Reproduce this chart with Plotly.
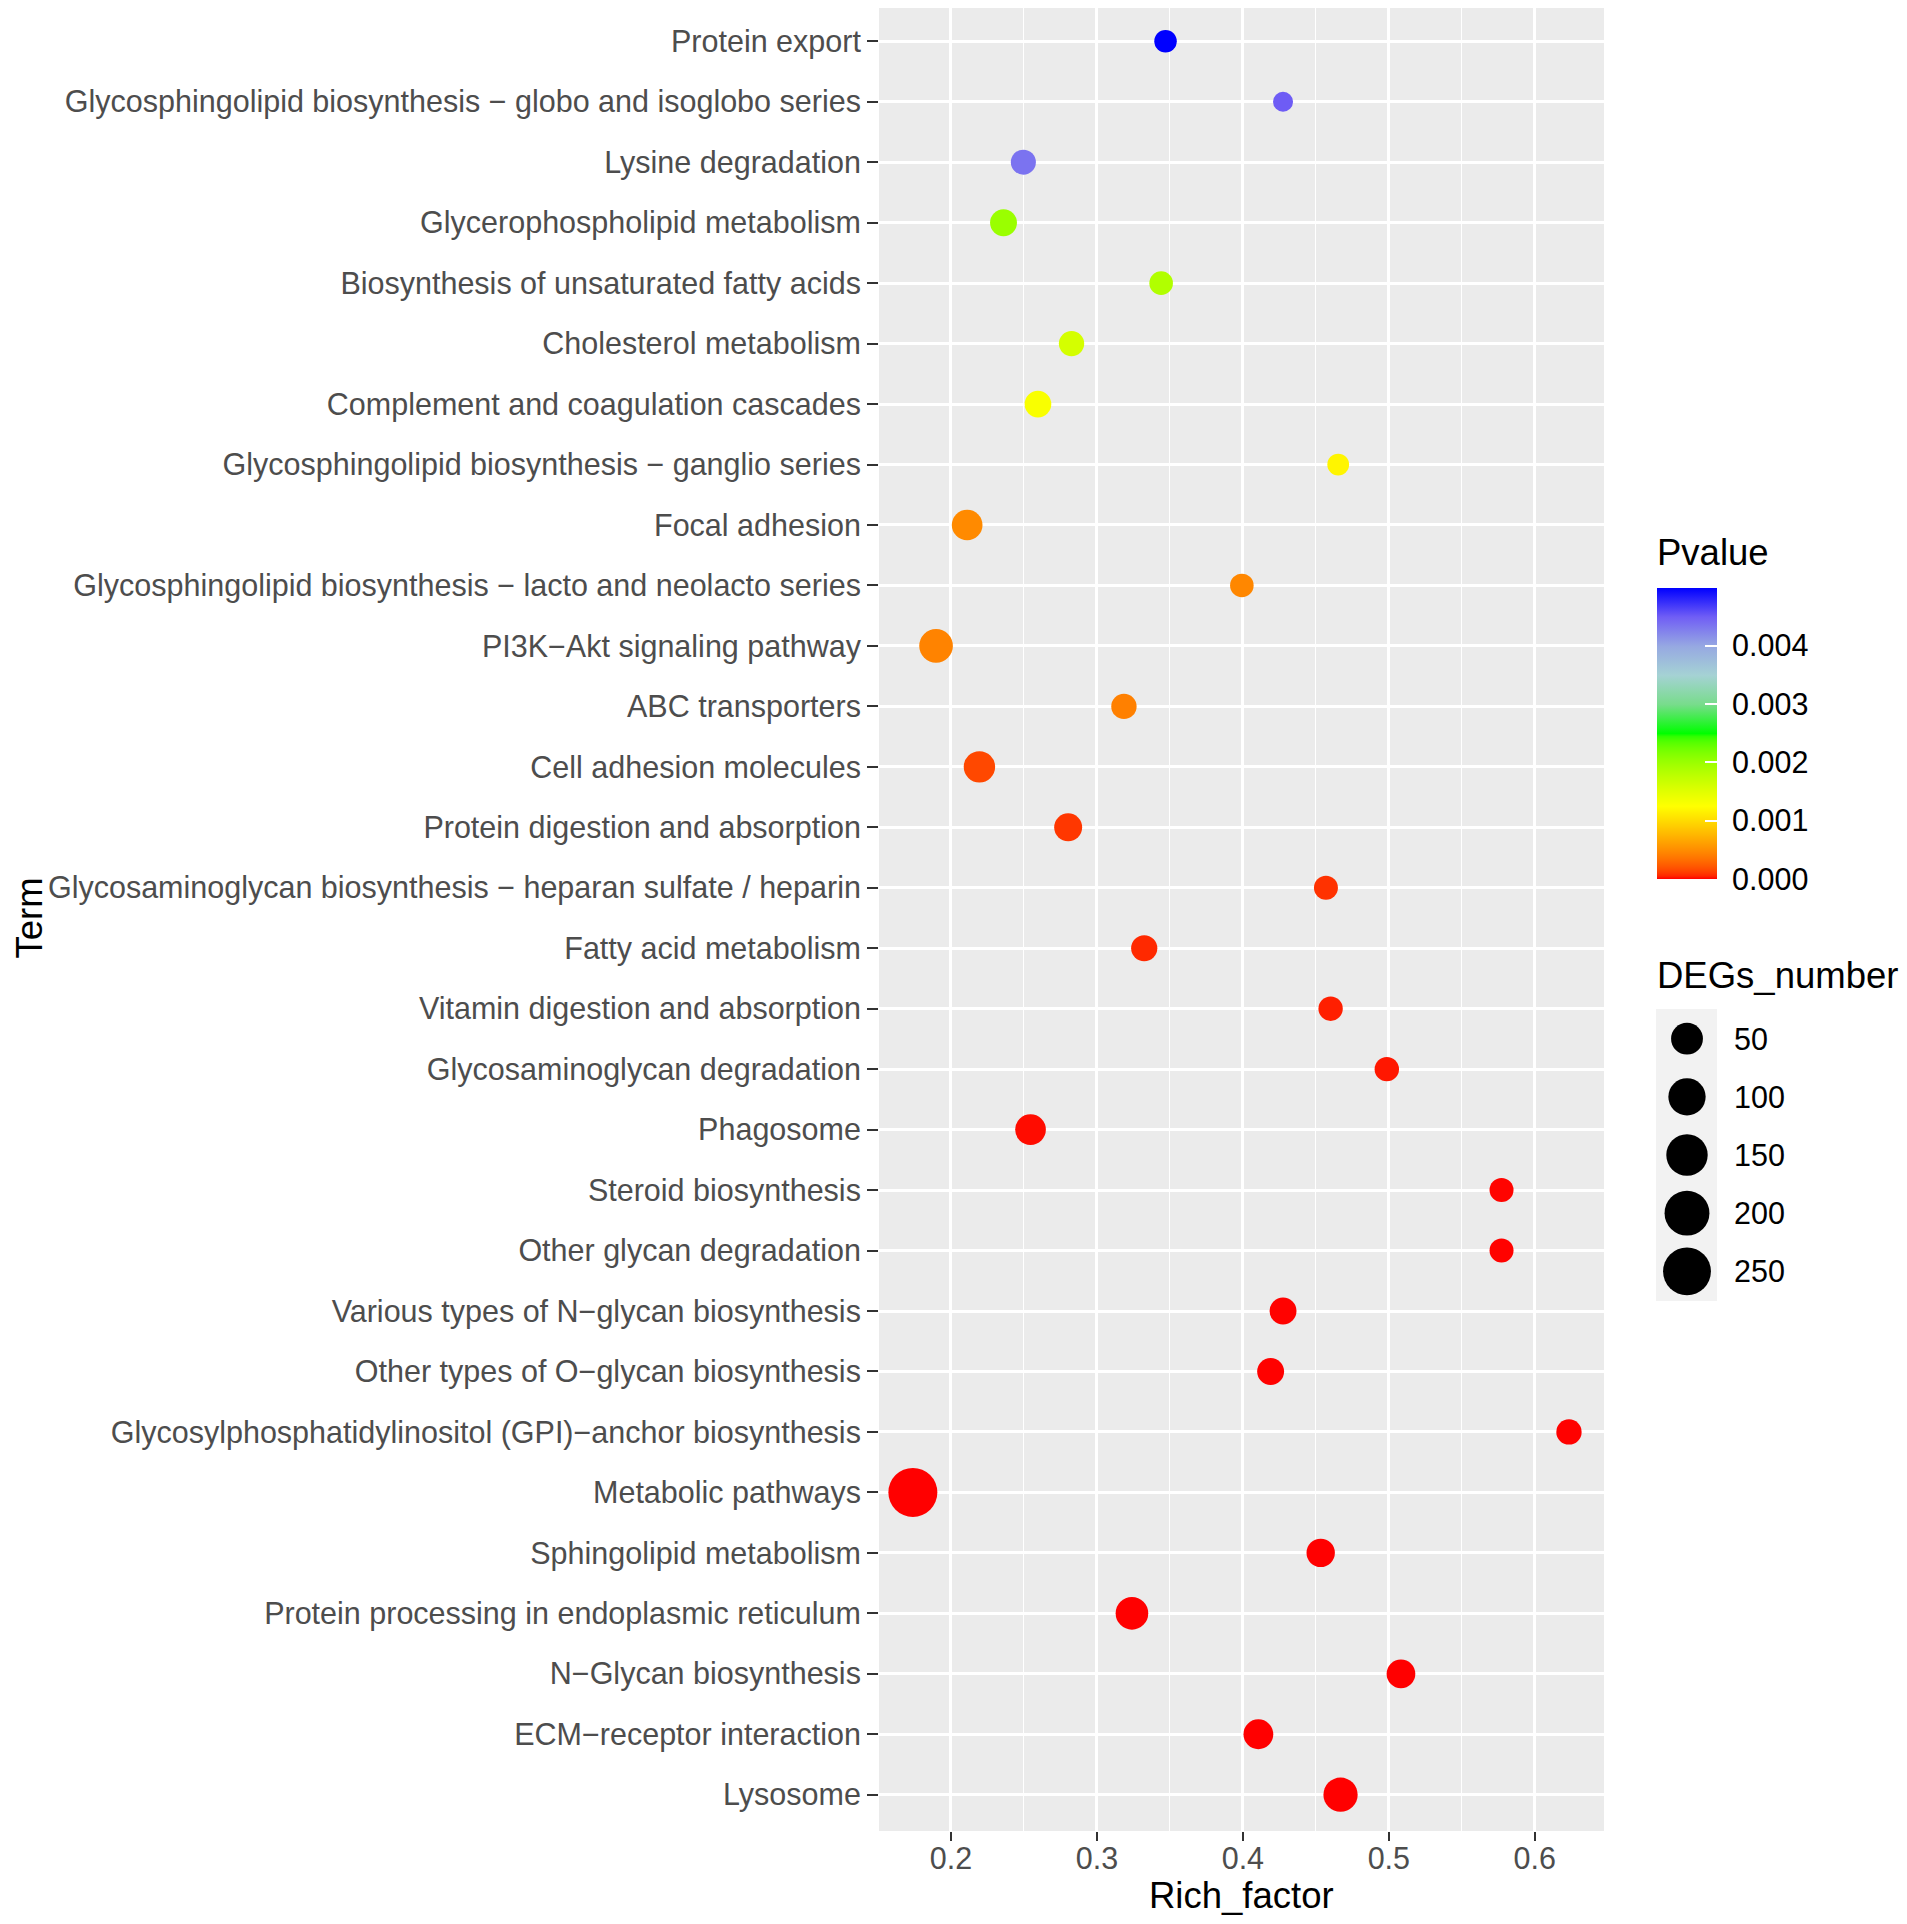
import numpy as np
import plotly.graph_objects as go

# KEGG enrichment bubble chart, terms listed top -> bottom
terms = [
    "Protein export",
    "Glycosphingolipid biosynthesis − globo and isoglobo series",
    "Lysine degradation",
    "Glycerophospholipid metabolism",
    "Biosynthesis of unsaturated fatty acids",
    "Cholesterol metabolism",
    "Complement and coagulation cascades",
    "Glycosphingolipid biosynthesis − ganglio series",
    "Focal adhesion",
    "Glycosphingolipid biosynthesis − lacto and neolacto series",
    "PI3K−Akt signaling pathway",
    "ABC transporters",
    "Cell adhesion molecules",
    "Protein digestion and absorption",
    "Glycosaminoglycan biosynthesis − heparan sulfate / heparin",
    "Fatty acid metabolism",
    "Vitamin digestion and absorption",
    "Glycosaminoglycan degradation",
    "Phagosome",
    "Steroid biosynthesis",
    "Other glycan degradation",
    "Various types of N−glycan biosynthesis",
    "Other types of O−glycan biosynthesis",
    "Glycosylphosphatidylinositol (GPI)−anchor biosynthesis",
    "Metabolic pathways",
    "Sphingolipid metabolism",
    "Protein processing in endoplasmic reticulum",
    "N−Glycan biosynthesis",
    "ECM−receptor interaction",
    "Lysosome",
]

rich_factor = [0.347, 0.4275, 0.2496, 0.236, 0.344, 0.2826, 0.2596, 0.4653, 0.2111, 0.3993,
               0.1898, 0.3185, 0.2195, 0.2803, 0.4569, 0.3324, 0.4601, 0.4986, 0.2545, 0.5772,
               0.5772, 0.4275, 0.419, 0.6234, 0.1739, 0.4533, 0.324, 0.5083, 0.4106, 0.4669]

degs_number = [8, 6, 14, 21, 10, 15, 20, 7, 42, 10,
               65, 15, 47, 26, 11, 18, 12, 12, 42, 11,
               11, 21, 21, 15, 270, 28, 56, 30, 36, 70]

pvalue = [0.00499, 0.0045, 0.00435, 0.0020, 0.00185, 0.0016, 0.0013, 0.00118, 0.00048, 0.00046,
          0.00044, 0.00042, 0.00015, 0.000094, 0.00008, 0.000056, 0.00004, 0.00003, 0.000015, 0.000005,
          0.000003, 0.000002, 0.0000015, 0.000001, 5e-7, 3e-7, 1e-7, 5e-8, 1e-8, 1e-10]

size_breaks = [50, 100, 150, 200, 250]
p_ticks = [0.0, 0.001, 0.002, 0.003, 0.004]
p_ticktext = ["0.000", "0.001", "0.002", "0.003", "0.004"]

# page body has an 8px margin, so the figure is drawn 8px in from the corner
OFF = 8
W, H = 1907 - 2 * OFF, 1924 - 2 * OFF
FONT = "Liberation Sans"


# ---- colour gradient: red -> yellow -> green in CIELAB, then pale path to blue ----
def hex_rgb(h):
    h = h.lstrip("#")
    return np.array([int(h[i:i + 2], 16) / 255 for i in (0, 2, 4)])


def rgb_to_lab(c):
    c = np.where(c <= 0.04045, c / 12.92, ((c + 0.055) / 1.055) ** 2.4)
    m = np.array([[0.4124, 0.3576, 0.1805], [0.2126, 0.7152, 0.0722], [0.0193, 0.1192, 0.9505]])
    xyz = m @ c / np.array([0.95047, 1.0, 1.08883])
    f = np.where(xyz > (6 / 29) ** 3, np.cbrt(xyz), xyz / (3 * (6 / 29) ** 2) + 4 / 29)
    return np.array([116 * f[1] - 16, 500 * (f[0] - f[1]), 200 * (f[1] - f[2])])


def lab_to_rgb(lab):
    fy = (lab[0] + 16) / 116
    f = np.array([fy + lab[1] / 500, fy, fy - lab[2] / 200])
    xyz = np.where(f > 6 / 29, f ** 3, 3 * (6 / 29) ** 2 * (f - 4 / 29)) * np.array([0.95047, 1.0, 1.08883])
    m = np.array([[3.2406, -1.5372, -0.4986], [-0.9689, 1.8758, 0.0415], [0.0557, -0.2040, 1.0570]])
    c = np.clip(m @ xyz, 0, 1)
    c = np.where(c <= 0.0031308, 12.92 * c, 1.055 * c ** (1 / 2.4) - 0.055)
    r, g, b = (np.clip(c, 0, 1) * 255).round().astype(int)
    return f"rgb({r},{g},{b})"


anchors = [(0.0, "#FF0000"), (0.25, "#FFFF00"), (0.5, "#00FF00")]
colorscale = []
for t in np.linspace(0, 0.5, 51):
    for (t0, c0), (t1, c1) in zip(anchors[:-1], anchors[1:]):
        if t0 <= t <= t1:
            u = (t - t0) / (t1 - t0)
            lab = (1 - u) * rgb_to_lab(hex_rgb(c0)) + u * rgb_to_lab(hex_rgb(c1))
            colorscale.append([float(t), lab_to_rgb(lab)])
            break
colorscale += [[0.6, "rgb(120,220,140)"], [0.7, "rgb(165,210,212)"], [0.8, "rgb(150,168,226)"],
               [0.9, "rgb(112,94,245)"], [1.0, "rgb(0,0,255)"]]

# ---- size scale (area) ----
D_MIN, D_MAX = 20, 49
vmin, vmax = min(degs_number), max(degs_number)


def diam(v):
    v = np.asarray(v, dtype=float)
    return D_MIN + (D_MAX - D_MIN) * np.sqrt((v - vmin) / (vmax - vmin))


def px_x(p):
    return (p - OFF) / W


def px_y(p):
    return 1 - (p - OFF) / H


pad = "\u00a0"

fig = go.Figure()

fig.add_trace(go.Scatter(
    x=rich_factor, y=terms, mode="markers",
    marker=dict(
        size=diam(degs_number), sizemode="diameter",
        color=pvalue, colorscale=colorscale,
        cmin=min(pvalue), cmax=max(pvalue),
        line=dict(width=0), opacity=1,
        colorbar=dict(
            x=px_x(1657), xanchor="left", y=px_y(733.5), yanchor="middle",
            len=291, lenmode="pixels", thickness=60, thicknessmode="pixels",
            xpad=0, ypad=0, outlinewidth=0,
            tickvals=p_ticks, ticktext=[pad + t for t in p_ticktext],
            ticks="inside", ticklen=12, tickcolor="white", tickwidth=2,
            tickfont=dict(family=FONT, size=30.5, color="black"),
        ),
    ),
    showlegend=False, hoverinfo="x+y",
))

# size legend drawn on its own small axes
fig.add_trace(go.Scatter(
    x=[31] * len(size_breaks), y=list(range(len(size_breaks))),
    mode="markers", xaxis="x2", yaxis="y2",
    marker=dict(size=diam(size_breaks), sizemode="diameter", color="#000000",
                opacity=1, line=dict(width=0)),
    showlegend=False, hoverinfo="skip",
))

annotations = [
    dict(text="Rich_factor", x=px_x(1241), y=px_y(1895), xref="paper", yref="paper",
         showarrow=False, xanchor="center", yanchor="middle",
         font=dict(family=FONT, size=36.5, color="black")),
    dict(text="Term", x=px_x(8), y=px_y(918), xref="paper", yref="paper",
         showarrow=False, xanchor="left", yanchor="middle", textangle=-90, borderpad=0,
         font=dict(family=FONT, size=36.5, color="black")),
    dict(text="Pvalue", x=px_x(1655), y=px_y(552), xref="paper", yref="paper",
         showarrow=False, xanchor="left", yanchor="middle",
         font=dict(family=FONT, size=36.5, color="black")),
    dict(text="DEGs_number", x=px_x(1655), y=px_y(975), xref="paper", yref="paper",
         showarrow=False, xanchor="left", yanchor="middle",
         font=dict(family=FONT, size=36.5, color="black")),
]
for i, s in enumerate(size_breaks):
    annotations.append(dict(text=str(s), x=76, y=i, xref="x2", yref="y2", showarrow=False,
                            xanchor="left", yanchor="middle",
                            font=dict(family=FONT, size=30.5, color="black")))

# panel runs from y=5 in the reference, i.e. 3px above the figure's top edge
ROW = (1795 - 42) / 29
y_top = -0.6 + (OFF - 5) / ROW

fig.update_layout(
    width=W, height=H,
    margin=dict(l=0, r=0, t=0, b=0),
    paper_bgcolor="white", plot_bgcolor="#EBEBEB",
    font=dict(family=FONT, color="#4D4D4D"),
    xaxis=dict(
        domain=[px_x(879), px_x(1604)],
        range=[0.1507, 0.6474], dtick=0.1, tick0=0.2, tickformat=".1f",
        showgrid=True, gridcolor="white", gridwidth=2.8, zeroline=False,
        minor=dict(dtick=0.05, tick0=0.15, showgrid=True, gridcolor="white", gridwidth=1.4, ticks=""),
        ticks="outside", ticklen=9, tickwidth=2.2, tickcolor="#333333",
        ticklabelstandoff=-9,
        tickfont=dict(family=FONT, size=30.5, color="#4D4D4D"),
        automargin=False, fixedrange=True,
    ),
    yaxis=dict(
        domain=[px_y(1831), 1.0],
        type="category", categoryorder="array", categoryarray=terms,
        range=[len(terms) - 0.4, y_top],
        showgrid=True, gridcolor="white", gridwidth=2.8, zeroline=False,
        ticks="outside", ticklen=11, tickwidth=2.2, tickcolor="#333333",
        tickfont=dict(family=FONT, size=30.5, color="#4D4D4D"),
        automargin=False, fixedrange=True,
    ),
    xaxis2=dict(domain=[px_x(1656), px_x(1800)], range=[0, 144], visible=False,
                showgrid=False, zeroline=False, fixedrange=True),
    yaxis2=dict(domain=[px_y(1301), px_y(1009)], range=[4.51, -0.51], visible=False,
                anchor="x2", showgrid=False, zeroline=False, fixedrange=True),
    shapes=[dict(type="rect", xref="x2", yref="y2 domain", x0=0, x1=61, y0=0, y1=1,
                 fillcolor="#F2F2F2", line=dict(width=0), layer="below"),
            dict(type="rect", xref="x2", yref="y2 domain", x0=61, x1=144, y0=0, y1=1,
                 fillcolor="white", line=dict(width=0), layer="below")],
    annotations=annotations,
)

fig.write_html("out.html")
